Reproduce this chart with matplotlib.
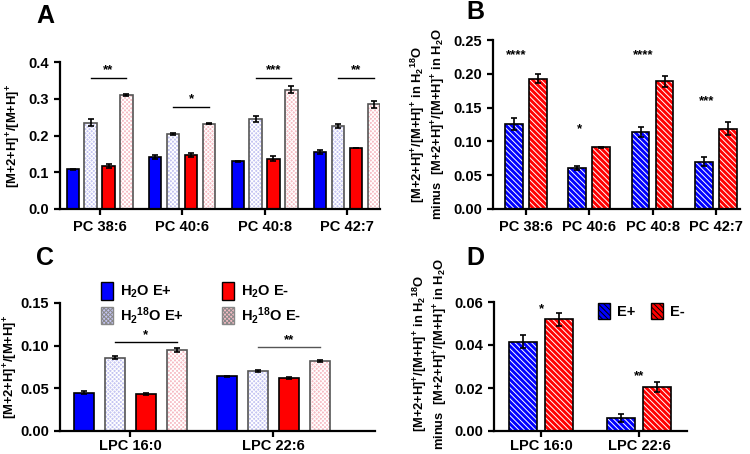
"""Four-panel bar chart of M+2 isotope ratios (PC and LPC species)."""

import matplotlib
matplotlib.use("Agg")
import matplotlib.pyplot as plt
from matplotlib.patches import Patch
import numpy as np

plt.rcParams.update({
    "font.family": ["Liberation Sans", "DejaVu Sans"],
    "font.weight": "bold",
    "axes.labelweight": "bold",
    "mathtext.fontset": "custom",
    "mathtext.rm": "Liberation Sans:bold",
    "mathtext.it": "Liberation Sans:bold",
    "mathtext.bf": "Liberation Sans:bold",
    "mathtext.default": "rm",
    "hatch.linewidth": 0.7,
})

# ── data ────────────────────────────────────────────────────────────────
pc_species = ["PC 38:6", "PC 40:6", "PC 40:8", "PC 42:7"]
pc_h2o_ep = [0.108, 0.141, 0.130, 0.155]
pc_h2o_ep_err = [0.002, 0.006, 0.001, 0.006]
pc_h218o_ep = [0.235, 0.204, 0.244, 0.225]
pc_h218o_ep_err = [0.010, 0.002, 0.008, 0.005]
pc_h2o_em = [0.117, 0.147, 0.137, 0.166]
pc_h2o_em_err = [0.005, 0.006, 0.006, 0.001]
pc_h218o_em = [0.310, 0.232, 0.325, 0.285]
pc_h218o_em_err = [0.003, 0.001, 0.010, 0.010]
pc_sig = ["**", "*", "***", "**"]
pc_sig_y = [0.357, 0.278, 0.357, 0.357]

pc_diff_ep = [0.126, 0.061, 0.114, 0.070]
pc_diff_ep_err = [0.009, 0.003, 0.008, 0.007]
pc_diff_em = [0.193, 0.091, 0.189, 0.119]
pc_diff_em_err = [0.007, 0.001, 0.008, 0.009]
pc_diff_sig = ["****", "*", "****", "***"]
pc_diff_sig_y = [0.228, 0.118, 0.228, 0.159]

lpc_species = ["LPC 16:0", "LPC 22:6"]
lpc_h2o_ep = [0.045, 0.064]
lpc_h2o_ep_err = [0.002, 0.001]
lpc_h218o_ep = [0.086, 0.070]
lpc_h218o_ep_err = [0.0015, 0.001]
lpc_h2o_em = [0.043, 0.062]
lpc_h2o_em_err = [0.001, 0.001]
lpc_h218o_em = [0.095, 0.082]
lpc_h218o_em_err = [0.002, 0.0015]
lpc_sig = ["*", "**"]
lpc_sig_y = [0.104, 0.098]

lpc_diff_ep = [0.0415, 0.006]
lpc_diff_ep_err = [0.003, 0.002]
lpc_diff_em = [0.052, 0.0205]
lpc_diff_em_err = [0.003, 0.0025]
lpc_diff_sig = ["*", "**"]
lpc_diff_sig_y = [0.0565, 0.0255]

BLUE = "#0000ff"
RED = "#ff0000"
LBLUE = "#c4c4f2"
LPINK = "#f6bcc4"
DOTS = "xxxxxxxx"
STRIPES = "\\\\\\\\\\\\"

ratio_label = r"[M+2+H]$^{+}$/[M+H]$^{+}$"
diff_label = (r"[M+2+H]$^{+}$/[M+H]$^{+}$ in H$_{2}$$^{18}$O" + "\n"
              + r"minus  [M+2+H]$^{+}$/[M+H]$^{+}$ in H$_{2}$O")

fig = plt.figure(figsize=(7.5, 4.54), dpi=100)
W, H = 750, 454


def px_axes(left, right, top, bottom):
    return fig.add_axes([left / W, 1 - bottom / H, (right - left) / W, (bottom - top) / H])


def style_axes(ax, xpad=3.5):
    for s in ("top", "right"):
        ax.spines[s].set_visible(False)
    for s in ("left", "bottom"):
        ax.spines[s].set_linewidth(1.6)
    ax.tick_params(width=1.6, length=4.5, labelsize=10.5, direction="out")
    ax.tick_params(axis="x", pad=xpad)


def solid_bars(ax, x, vals, errs, color, width):
    ax.bar(x, vals, width, color=color, edgecolor="black", linewidth=1.2, zorder=2)
    ax.errorbar(x, vals, yerr=errs, fmt="none", ecolor="black", elinewidth=1.2,
                capsize=2.5, capthick=1.2, zorder=3)


def textured_bars(ax, x, vals, errs, color, width, hatch, edge):
    # fill + white hatch first, then the outline on top
    ax.bar(x, vals, width, color=color, edgecolor="white", hatch=hatch, linewidth=0, zorder=2)
    ax.bar(x, vals, width, fill=False, edgecolor=edge, linewidth=1.2, zorder=2.5)
    ax.errorbar(x, vals, yerr=errs, fmt="none", ecolor="black", elinewidth=1.2,
                capsize=2.5, capthick=1.2, zorder=3)


# ── A ──────────────────────────────────────────────────────────────────
axA = px_axes(60, 380, 62, 209)
x = np.arange(len(pc_species))
step, w = 0.217, 0.15
solid_bars(axA, x - 1.5 * step, pc_h2o_ep, pc_h2o_ep_err, BLUE, w)
textured_bars(axA, x - 0.5 * step, pc_h218o_ep, pc_h218o_ep_err, LBLUE, w, DOTS, "#555555")
solid_bars(axA, x + 0.5 * step, pc_h2o_em, pc_h2o_em_err, RED, w)
textured_bars(axA, x + 1.5 * step, pc_h218o_em, pc_h218o_em_err, LPINK, w, DOTS, "#555555")
for xi, s, y in zip(x, pc_sig, pc_sig_y):
    axA.plot([xi - 0.5 * step, xi + 1.5 * step], [y, y], color="black", lw=1)
    axA.text(xi + 0.5 * step, y + 0.004, s, ha="center", va="bottom", fontsize=9.5)
axA.set_xlim(-0.48, 3.4)
axA.set_ylim(0, 0.4)
axA.set_yticks([0.0, 0.1, 0.2, 0.3, 0.4])
axA.set_yticklabels(["0.0", "0.1", "0.2", "0.3", "0.4"])
axA.set_xticks(x)
axA.set_xticklabels(pc_species, fontsize=10.5)
axA.set_ylabel(ratio_label, fontsize=9.4, va="center")
axA.yaxis.set_label_coords(-0.143, 0.5)
style_axes(axA)
fig.text(36 / W, 1 - 16 / H, "A", fontsize=18, fontweight="bold", va="center")

# ── B ──────────────────────────────────────────────────────────────────
axB = px_axes(493, 740, 40, 209)
stepB, wB = 0.38, 0.28
textured_bars(axB, x - stepB / 2, pc_diff_ep, pc_diff_ep_err, BLUE, wB, STRIPES, "black")
textured_bars(axB, x + stepB / 2, pc_diff_em, pc_diff_em_err, RED, wB, STRIPES, "black")
for xi, s, y in zip(x, pc_diff_sig, pc_diff_sig_y):
    axB.text(xi - 0.15, y, s, ha="center", va="center", fontsize=9.5)
axB.set_xlim(-0.52, 3.38)
axB.set_ylim(0, 0.25)
axB.set_yticks([0.0, 0.05, 0.10, 0.15, 0.20, 0.25])
axB.set_yticklabels(["0.00", "0.05", "0.10", "0.15", "0.20", "0.25"])
axB.set_xticks(x)
axB.set_xticklabels(pc_species, fontsize=10.5)
axB.set_ylabel(diff_label, fontsize=9.3, va="center")
axB.yaxis.set_label_coords(-0.26, 0.5)
style_axes(axB)
fig.text(466 / W, 1 - 12 / H, "B", fontsize=18, fontweight="bold", va="center")

# ── C ──────────────────────────────────────────────────────────────────
axC = px_axes(60, 375, 303, 431)
x2 = np.arange(len(lpc_species))
stepC, wC = 0.217, 0.14
solid_bars(axC, x2 - 1.5 * stepC, lpc_h2o_ep, lpc_h2o_ep_err, BLUE, wC)
textured_bars(axC, x2 - 0.5 * stepC, lpc_h218o_ep, lpc_h218o_ep_err, LBLUE, wC, DOTS, "#555555")
solid_bars(axC, x2 + 0.5 * stepC, lpc_h2o_em, lpc_h2o_em_err, RED, wC)
textured_bars(axC, x2 + 1.5 * stepC, lpc_h218o_em, lpc_h218o_em_err, LPINK, wC, DOTS, "#555555")
for xi, s, y, c in zip(x2, lpc_sig, lpc_sig_y, ["black", "#555555"]):
    axC.plot([xi - 0.5 * stepC, xi + 1.5 * stepC], [y, y], color=c, lw=1)
    axC.text(xi + 0.5 * stepC, y + 0.001, s, ha="center", va="bottom", fontsize=9.5)
axC.set_xlim(-0.49, 1.71)
axC.set_ylim(0, 0.15)
axC.set_yticks([0.0, 0.05, 0.10, 0.15])
axC.set_yticklabels(["0.00", "0.05", "0.10", "0.15"])
axC.set_xticks(x2)
axC.set_xticklabels(lpc_species, fontsize=10.5)
axC.set_ylabel(ratio_label, fontsize=9.4, va="center")
axC.yaxis.set_label_coords(-0.155, 0.5)
style_axes(axC, xpad=1)
fig.text(36 / W, 1 - 258 / H, "C", fontsize=18, fontweight="bold", va="center")

handles_c = [
    Patch(facecolor=BLUE, edgecolor="black", label=r"H$_{2}$O E+"),
    Patch(facecolor=LBLUE, edgecolor="#888888", hatch=DOTS, label=r"H$_{2}$$^{18}$O E+"),
    Patch(facecolor=RED, edgecolor="black", label=r"H$_{2}$O E-"),
    Patch(facecolor=LPINK, edgecolor="#888888", hatch=DOTS, label=r"H$_{2}$$^{18}$O E-"),
]
axC.legend(handles=handles_c, ncol=2, loc="upper left", bbox_to_anchor=(0.09, 1.265),
           frameon=False, fontsize=10.5, handlelength=0.8, handleheight=1.5,
           handletextpad=0.5, columnspacing=2.6, labelspacing=0.3)

# ── D ──────────────────────────────────────────────────────────────────
axD = px_axes(494, 687, 302, 431)
stepD, wD = 0.37, 0.28
textured_bars(axD, x2 - stepD / 2, lpc_diff_ep, lpc_diff_ep_err, BLUE, wD, STRIPES, "black")
textured_bars(axD, x2 + stepD / 2, lpc_diff_em, lpc_diff_em_err, RED, wD, STRIPES, "black")
for xi, s, y in zip(x2, lpc_diff_sig, lpc_diff_sig_y):
    axD.text(xi, y, s, ha="center", va="center", fontsize=9.5)
axD.set_xlim(-0.48, 1.49)
axD.set_ylim(0, 0.06)
axD.set_yticks([0.0, 0.02, 0.04, 0.06])
axD.set_yticklabels(["0.00", "0.02", "0.04", "0.06"])
axD.set_xticks(x2)
axD.set_xticklabels(lpc_species, fontsize=10.5)
axD.set_ylabel(diff_label, fontsize=9.3, va="center")
axD.yaxis.set_label_coords(-0.33, 0.6)
style_axes(axD, xpad=1)
fig.text(466 / W, 1 - 258 / H, "D", fontsize=18, fontweight="bold", va="center")

handles_d = [
    Patch(facecolor=BLUE, edgecolor="black", hatch=STRIPES, label="E+"),
    Patch(facecolor=RED, edgecolor="black", hatch=STRIPES, label="E-"),
]
axD.legend(handles=handles_d, ncol=2, loc="center left", bbox_to_anchor=(0.47, 0.93),
           frameon=False, fontsize=10.5, handlelength=0.8, handleheight=1.3,
           handletextpad=0.5, columnspacing=1.1)

fig.savefig("out.png", dpi=100, facecolor="white")
